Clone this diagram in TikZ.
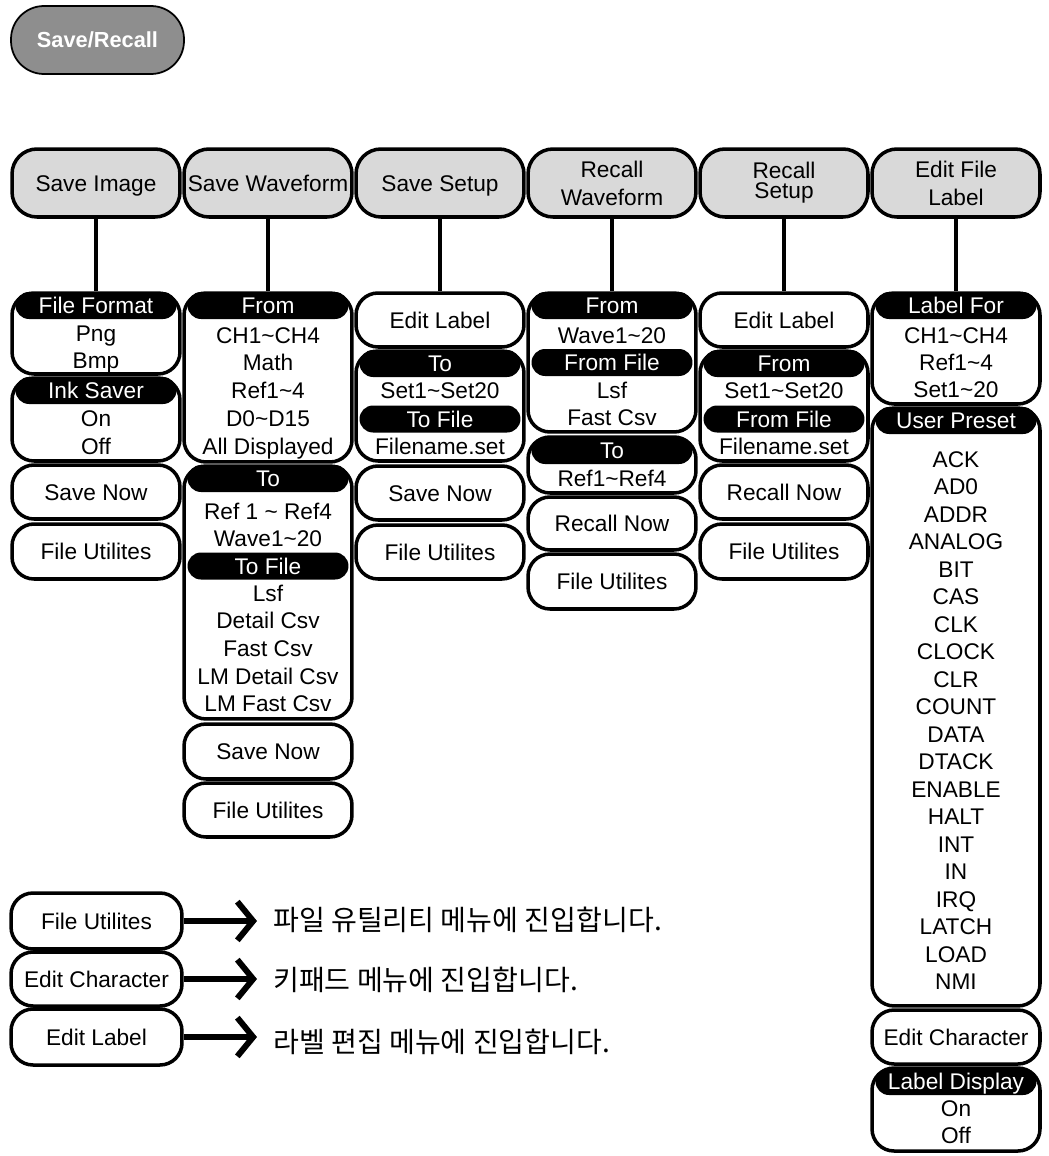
\documentclass[tikz,border=0pt]{standalone}
\usepackage{fontspec}
\setmainfont{Liberation Sans}
\newfontfamily\krfont{Noto Sans CJK KR}
\usetikzlibrary{arrows.meta}
\definecolor{keygray}{RGB}{142,142,142}
\definecolor{tabgray}{RGB}{217,217,217}

\begin{document}
\begin{tikzpicture}[x=.02cm,y=-.02cm,font=\fontsize{12.9}{15.9}\selectfont,
  softkey/.style={draw,line width=1pt,fill=keygray,text=white,font=\fontsize{12.4}{14}\selectfont\bfseries,rounded corners=.66cm,minimum width=3.46cm,minimum height=1.36cm},
  tab/.style={draw,line width=2pt,fill=tabgray,rounded corners=.5cm,minimum width=3.36cm,minimum height=1.36cm,align=center,inner sep=1pt},
  onetab/.style={tab,text height=.33cm,text depth=0pt},
  box/.style={draw,line width=2pt,fill=white,rounded corners=.44cm,minimum width=3.36cm,text height=.33cm,text depth=0pt},
  bar/.style={fill=black,text=white,rounded corners=.27cm,minimum width=3.22cm,minimum height=.54cm,inner sep=0pt,text height=.33cm,text depth=0pt},
  item/.style={inner sep=0pt,text height=.33cm,text depth=0pt},
  link/.style={line width=2.3pt},
  goto/.style={line width=3.4pt,-{Straight Barb[length=9pt,width=22pt]}},
  note/.style={anchor=west,font=\krfont\fontsize{16}{18}\selectfont}]
\useasboundingbox (0,0) rectangle (1048,1156);
\node[softkey] (sr) at (97.5,40) {Save/Recall};
\node[onetab] (simg) at (96,183) {Save Image};
\node[onetab] (swav) at (268,183) {Save Waveform};
\node[onetab] (sset) at (440,183) {Save Setup};
\node[tab] (rwav) at (612,183) {Recall\\Waveform};
\node[tab] (rset) at (784,183) {Recall\\[-4.5pt]Setup};
\node[tab] (efl) at (956,183) {Edit File\\Label};
\node[box,minimum height=1.62cm] (si1) at (96,333.5) {};
\node[bar] (si1h) at (96,305.5) {File Format};
\node[item] (si1a) at (96,333) {Png};
\node[item] (si1b) at (96,360) {Bmp};
\node[box,minimum height=1.66cm] (si2) at (96,419.5) {};
\node[bar] (si2h) at (96,390.5) {Ink Saver};
\node[item] (si2a) at (96,418) {On};
\node[item] (si2b) at (96,446) {Off};
\node[box,minimum height=1.08cm] (si3) at (96,492) {Save Now};
\node[box,minimum height=1.1cm] (si4) at (96,551.5) {File Utilites};
\node[box,minimum height=3.38cm] (sw1) at (268,377.5) {};
\node[bar] (sw1h) at (268,305.5) {From};
\node[item] (sw1a) at (268,335) {CH1\textasciitilde CH4};
\node[item] (sw1b) at (268,362) {Math};
\node[item] (sw1c) at (268,390) {Ref1\textasciitilde 4};
\node[item] (sw1d) at (268,418) {D0\textasciitilde D15};
\node[item] (sw1e) at (268,446) {All Displayed};
\node[box,minimum height=5.06cm] (sw2) at (268,592.5) {};
\node[bar] (sw2h) at (268,478.5) {To};
\node[item] (sw2a) at (268,511) {Ref 1 \textasciitilde{} Ref4};
\node[item] (sw2b) at (268,538) {Wave1\textasciitilde 20};
\node[bar] (sw2i) at (268,566) {To File};
\node[item] (sw2c) at (268,593) {Lsf};
\node[item] (sw2d) at (268,620) {Detail Csv};
\node[item] (sw2e) at (268,648) {Fast Csv};
\node[item] (sw2f) at (268,676) {LM Detail Csv};
\node[item] (sw2g) at (268,703) {LM Fast Csv};
\node[box,minimum height=1.1cm] (sw3) at (268,751.5) {Save Now};
\node[box,minimum height=1.08cm] (sw4) at (268,810) {File Utilites};
\node[box,minimum height=1.08cm] (ss1) at (440,320) {Edit Label};
\node[box,minimum height=2.2cm] (ss2) at (440,406) {};
\node[bar] (ss2h) at (440,363.5) {To};
\node[item] (ss2a) at (440,390) {Set1\textasciitilde Set20};
\node[bar] (ss2i) at (440,419) {To File};
\node[item] (ss2b) at (440,446) {Filename.set};
\node[box,minimum height=1.08cm] (ss3) at (440,493) {Save Now};
\node[box,minimum height=1.08cm] (ss4) at (440,552) {File Utilites};
\node[box,minimum height=2.78cm] (rw1) at (612,362.5) {};
\node[bar] (rw1h) at (612,305.5) {From};
\node[item] (rw1a) at (612,335) {Wave1\textasciitilde 20};
\node[bar] (rw1i) at (612,362.5) {From File};
\node[item] (rw1b) at (612,390) {Lsf};
\node[item] (rw1c) at (612,417) {Fast Csv};
\node[box,minimum height=1.12cm] (rw2) at (612,465) {};
\node[bar] (rw2h) at (612,450.5) {To};
\node[item] (rw2a) at (612,478) {Ref1\textasciitilde Ref4};
\node[box,minimum height=1.06cm] (rw3) at (612,523.5) {Recall Now};
\node[box,minimum height=1.1cm] (rw4) at (612,581.5) {File Utilites};
\node[box,minimum height=1.08cm] (rs1) at (784,320) {Edit Label};
\node[box,minimum height=2.2cm] (rs2) at (784,406) {};
\node[bar] (rs2h) at (784,363.5) {From};
\node[item] (rs2a) at (784,390) {Set1\textasciitilde Set20};
\node[bar] (rs2i) at (784,419) {From File};
\node[item] (rs2b) at (784,446) {Filename.set};
\node[box,minimum height=1.08cm] (rs3) at (784,492) {Recall Now};
\node[box,minimum height=1.1cm] (rs4) at (784,551.5) {File Utilites};
\node[box,minimum height=2.22cm] (el1) at (956,348.5) {};
\node[bar] (el1h) at (956,305.5) {Label For};
\node[item] (el1a) at (956,335) {CH1\textasciitilde CH4};
\node[item] (el1b) at (956,362) {Ref1\textasciitilde 4};
\node[item] (el1c) at (956,389) {Set1\textasciitilde 20};
\node[box,minimum height=11.96cm] (el2) at (956,707) {};
\node[bar] (el2h) at (956,420.5) {User Preset};
\node[item] (el2a) at (956,459) {ACK};
\node[item] (el2b) at (956,486.5) {AD0};
\node[item] (el2c) at (956,514) {ADDR};
\node[item] (el2d) at (956,541.5) {ANALOG};
\node[item] (el2e) at (956,569) {BIT};
\node[item] (el2f) at (956,596.5) {CAS};
\node[item] (el2g) at (956,624) {CLK};
\node[item] (el2h) at (956,651.5) {CLOCK};
\node[item] (el2i) at (956,679) {CLR};
\node[item] (el2j) at (956,706.5) {COUNT};
\node[item] (el2k) at (956,734) {DATA};
\node[item] (el2l) at (956,761.5) {DTACK};
\node[item] (el2m) at (956,789) {ENABLE};
\node[item] (el2n) at (956,816.5) {HALT};
\node[item] (el2o) at (956,844) {INT};
\node[item] (el2p) at (956,871.5) {IN};
\node[item] (el2q) at (956,899) {IRQ};
\node[item] (el2r) at (956,926.5) {LATCH};
\node[item] (el2s) at (956,954) {LOAD};
\node[item] (el2t) at (956,981.5) {NMI};
\node[box,minimum height=1.08cm] (el3) at (956,1037) {Edit Character};
\node[box,minimum height=1.66cm] (el4) at (956,1109.5) {};
\node[bar] (el4h) at (956,1081.5) {Label Display};
\node[item] (el4a) at (956,1108) {On};
\node[item] (el4b) at (956,1135) {Off};
\draw[link] (simg) -- (si1);
\draw[link] (swav) -- (sw1);
\draw[link] (sset) -- (ss1);
\draw[link] (rwav) -- (rw1);
\draw[link] (rset) -- (rs1);
\draw[link] (efl) -- (el1);
\node[box,minimum height=1.12cm,minimum width=3.42cm] (lg1) at (96.5,921) {File Utilites};
\node[box,minimum height=1.08cm,minimum width=3.42cm] (lg2) at (96.5,979) {Edit Character};
\node[box,minimum height=1.12cm,minimum width=3.42cm] (lg3) at (96.5,1037) {Edit Label};
\coordinate (lg1t) at (257,921);
\coordinate (lg2t) at (257,979);
\coordinate (lg3t) at (257,1037);
\draw[goto] (lg1) -- (lg1t);
\draw[goto] (lg2) -- (lg2t);
\draw[goto] (lg3) -- (lg3t);
\node[note] (lg1k) at (267,920) {파일 유틸리티 메뉴에 진입합니다.};
\node[note] (lg2k) at (267,980) {키패드 메뉴에 진입합니다.};
\node[note] (lg3k) at (267,1042) {라벨 편집 메뉴에 진입합니다.};
\end{tikzpicture}
\end{document}
